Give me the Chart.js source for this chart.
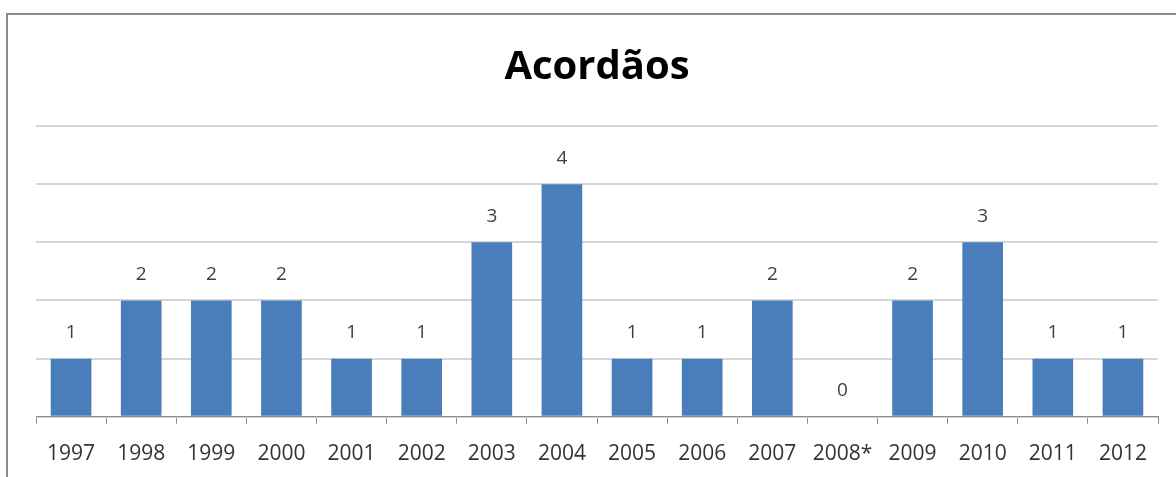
<!DOCTYPE html>
<html lang="pt">
<head>
    <meta charset="UTF-8">
    <title>Acordãos</title>
    <script src="https://cdn.jsdelivr.net/npm/chart.js@4.4.1/dist/chart.umd.min.js"></script>
    <style>
        body { margin: 0; background: #fff; overflow: hidden; }
        .wrap { position: relative; width: 1176px; height: 477px; overflow: hidden; }
        .frame {
            position: absolute; left: 6px; top: 13px; width: 1200px; height: 500px;
            border-top: 2px solid #8a8a8a; border-left: 2px solid #8a8a8a;
        }
        canvas { position: absolute; left: 0; top: 0; }
    </style>
</head>
<body>
    <div class="wrap">
        <div class="frame"></div>
        <canvas id="acordaos" width="1176" height="485"></canvas>
    </div>

    <script>
        // dados
        const anos = ['1997', '1998', '1999', '2000', '2001', '2002', '2003', '2004',
                      '2005', '2006', '2007', '2008*', '2009', '2010', '2011', '2012'];
        const acordaos = [1, 2, 2, 2, 1, 1, 3, 4, 1, 1, 2, 0, 2, 3, 1, 1];
        const yMax = 5;

        const fonte = "'Open Sans', 'DejaVu Sans', sans-serif";

        // rótulos em cima das barras
        const rotulos = {
            id: 'rotulos',
            afterDatasetsDraw(chart) {
                const ctx = chart.ctx;
                const meta = chart.getDatasetMeta(0);
                ctx.save();
                ctx.font = '19px ' + fonte;
                ctx.fillStyle = '#404040';
                ctx.textAlign = 'center';
                ctx.textBaseline = 'middle';
                meta.data.forEach((bar, i) => {
                    ctx.fillText(String(acordaos[i]), bar.x, bar.y - 26);
                });
                ctx.restore();
            }
        };

        new Chart(document.getElementById('acordaos'), {
            type: 'bar',
            data: {
                labels: anos,
                datasets: [{
                    data: acordaos,
                    backgroundColor: '#4a7ebb',
                    barPercentage: 0.58,
                    categoryPercentage: 1
                }]
            },
            options: {
                responsive: false,
                animation: false,
                layout: { padding: { left: 36, right: 18, top: 0, bottom: 0 } },
                plugins: {
                    legend: { display: false },
                    tooltip: { enabled: false },
                    title: {
                        display: true,
                        text: 'Acordãos',
                        color: '#000',
                        font: { family: fonte, size: 40, weight: 'bold' },
                        padding: { top: 44, bottom: 34 }
                    }
                },
                scales: {
                    x: {
                        offset: true,
                        grid: {
                            offset: true,
                            drawOnChartArea: false,
                            color: '#8c8c8c',
                            tickLength: 7
                        },
                        border: { color: '#8c8c8c', width: 1 },
                        ticks: {
                            color: '#333',
                            font: { family: fonte, size: 21 },
                            padding: 18,
                            maxRotation: 0,
                            autoSkip: false
                        }
                    },
                    y: {
                        min: 0,
                        max: yMax,
                        ticks: { display: false, stepSize: 1 },
                        grid: { color: '#d6d6d6', lineWidth: 2, drawTicks: false },
                        border: { display: false }
                    }
                }
            },
            plugins: [rotulos]
        });
    </script>
</body>
</html>
